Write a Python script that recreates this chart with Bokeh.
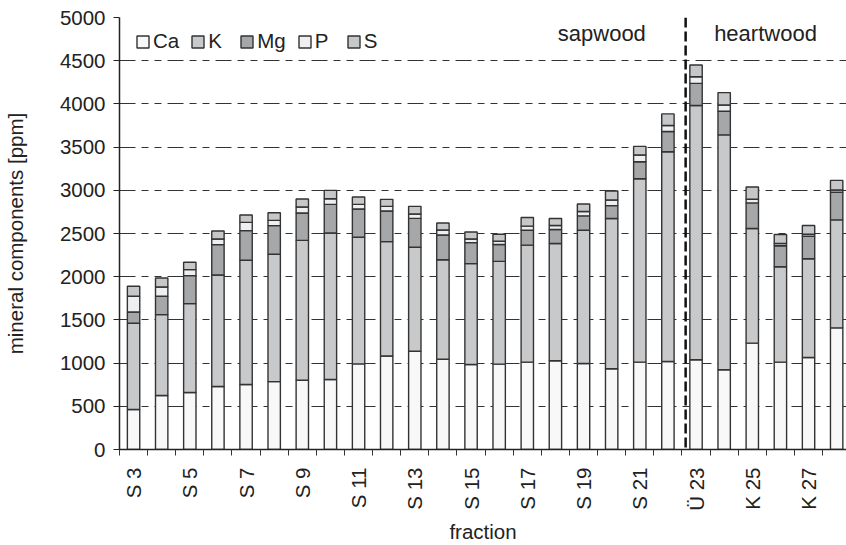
import math
from bokeh.plotting import figure
from bokeh.models import (ColumnDataSource, FixedTicker, Span, Label, Legend, LegendItem, Range1d)
from bokeh.embed import file_html
from bokeh.resources import INLINE

fractions = ["S 3", "S 4", "S 5", "S 6", "S 7", "S 8", "S 9", "S 10", "S 11", "S 12",
             "S 13", "S 14", "S 15", "S 16", "S 17", "S 18", "S 19", "S 20", "S 21", "S 22",
             "Ü 23", "K 24", "K 25", "K 26", "K 27", "K 28"]
Ca = [463, 625, 659, 729, 752, 786, 802, 810, 991, 1083, 1137, 1045, 983, 988, 1011, 1027,
      996, 935, 1011, 1019, 1038, 923, 1231, 1011, 1065, 1408]
K = [998, 936, 1029, 1291, 1438, 1473, 1619, 1696, 1465, 1323, 1203, 1152, 1168, 1189, 1354,
     1358, 1542, 1738, 2123, 2427, 2943, 2719, 1327, 1104, 1143, 1250]
Mg = [131, 212, 324, 351, 343, 332, 316, 331, 327, 354, 335, 286, 243, 196, 173, 161, 166,
      150, 197, 235, 257, 273, 296, 243, 261, 319]
P = [181, 108, 70, 65, 96, 61, 69, 66, 54, 54, 50, 57, 42, 38, 47, 46, 50, 65, 77, 69, 77,
     73, 42, 27, 23, 27]
S = [116, 104, 85, 93, 85, 89, 93, 96, 85, 81, 89, 81, 81, 81, 100, 81, 88, 104, 100, 134,
     135, 143, 142, 103, 100, 111]
components = ["Ca", "K", "Mg", "P", "S"]
colors = ["#f8f8f8", "#c8c9cb", "#a6a7a9", "#eeeff0", "#c6c7c9"]
y_ticks = list(range(0, 5001, 500))
region_labels = ["sapwood", "heartwood"]

xs = list(range(len(fractions)))
source = ColumnDataSource(dict(x=xs, Ca=Ca, K=K, Mg=Mg, P=P, S=S))

FONT = "Liberation Sans"
TXT = "#222222"
FS = "20.5px"

p = figure(width=846, height=545, output_backend="svg", toolbar_location=None,
           x_range=Range1d(-0.5, 25.35), y_range=Range1d(0, 5000),
           min_border_left=118, min_border_right=0, min_border_top=17, min_border_bottom=95)
p.outline_line_color = None
p.background_fill_color = "white"

renderers = p.vbar_stack(components, x="x", width=0.44, source=source, color=colors,
                         line_color="#333333", line_width=1.4)

# axes
xa = p.xaxis[0]
xa.ticker = FixedTicker(ticks=xs[::2], minor_ticks=[i - 0.5 for i in range(len(fractions) + 1)])
xa.major_label_overrides = {i: fractions[i] for i in xs[::2]}
xa.major_tick_line_color = None
xa.minor_tick_in = 0
xa.minor_tick_out = 6
xa.minor_tick_line_color = "#333333"
xa.minor_tick_line_width = 1
xa.axis_line_color = "#222222"
xa.axis_line_width = 1.5
xa.major_label_orientation = math.pi / 2
xa.major_label_text_font = FONT
xa.major_label_text_font_size = FS
xa.major_label_text_color = TXT
xa.major_label_standoff = 12
xa.axis_label = "fraction"
xa.axis_label_text_font = FONT
xa.axis_label_text_font_size = FS
xa.axis_label_text_font_style = "normal"
xa.axis_label_text_color = TXT
xa.axis_label_standoff = 6

ya = p.yaxis[0]
ya.ticker = FixedTicker(ticks=y_ticks)
ya.major_tick_in = 0
ya.major_tick_out = 6
ya.major_tick_line_color = "#222222"
ya.minor_tick_line_color = None
ya.axis_line_color = "#222222"
ya.axis_line_width = 1.5
ya.major_label_text_font = FONT
ya.major_label_text_font_size = FS
ya.major_label_text_color = TXT
ya.major_label_standoff = 8
ya.axis_label = "mineral components [ppm]"
ya.axis_label_text_font = FONT
ya.axis_label_text_font_size = FS
ya.axis_label_text_font_style = "normal"
ya.axis_label_text_color = TXT
ya.axis_label_standoff = 30

p.xgrid.grid_line_color = None
p.ygrid.ticker = FixedTicker(ticks=y_ticks[1:])
p.ygrid.grid_line_color = "#333333"
p.ygrid.grid_line_width = 1
p.ygrid.grid_line_dash = "16 6 7 6 7 6"

# sapwood / heartwood divider
p.add_layout(Span(location=19.63, dimension="height", line_color="#111111",
                  line_width=2.5, line_dash="10 4"))
p.add_layout(Label(x=16.65, y=4815, text=region_labels[0], text_align="center",
                   text_baseline="middle", text_font=FONT, text_font_size="22px",
                   text_color=TXT))
p.add_layout(Label(x=22.47, y=4815, text=region_labels[1], text_align="center",
                   text_baseline="middle", text_font=FONT, text_font_size="22px",
                   text_color=TXT))

legend = Legend(items=[LegendItem(label=c, renderers=[r]) for c, r in zip(components, renderers)],
                orientation="horizontal", location=(16, 396),
                background_fill_alpha=0, border_line_color=None,
                label_text_font=FONT, label_text_font_size=FS, label_text_color=TXT,
                label_text_baseline="middle",
                glyph_width=15, glyph_height=15, label_standoff=3, spacing=11,
                padding=2, margin=0, label_height=20)
p.add_layout(legend)

open("out.html", "w").write(file_html(p, INLINE))
